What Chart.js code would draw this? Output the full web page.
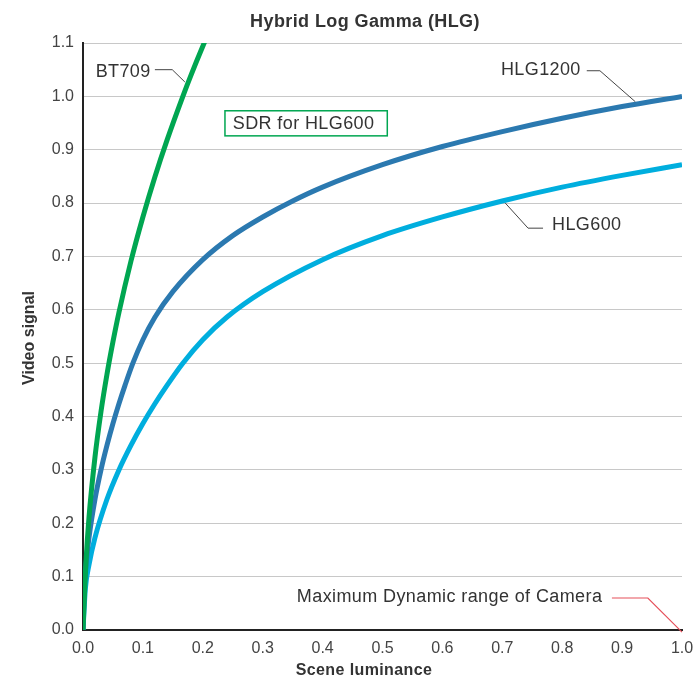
<!DOCTYPE html>
<html>
<head>
<meta charset="utf-8">
<script src="https://cdn.jsdelivr.net/npm/chart.js@4"></script>
<style>
html,body{margin:0;padding:0;background:#fff;}
#wrap{width:696px;height:679px;}
</style>
</head>
<body>
<div id="wrap"><canvas id="c" width="696" height="679"></canvas></div>
<script>
// ---- Data ----
const bt709X = [0, 0.003, 0.005, 0.01, 0.02, 0.03, 0.04, 0.05, 0.06, 0.08, 0.1, 0.12, 0.14, 0.1667, 0.18, 0.2, 0.21];
const bt709Y = [0, 0.081, 0.128, 0.211, 0.324, 0.409, 0.479, 0.540, 0.595, 0.691, 0.774, 0.849, 0.917, 1.000, 1.039, 1.094, 1.120];

const hlg1200X = [0, 0.002, 0.005, 0.01, 0.02, 0.03, 0.04, 0.05, 0.06, 0.07, 0.0833, 0.1, 0.12, 0.15, 0.2, 0.25, 0.3, 0.35, 0.4, 0.5, 0.6, 0.7, 0.8, 0.9, 1.0];
const hlg1200Y = [0, 0.078, 0.122, 0.173, 0.245, 0.300, 0.346, 0.387, 0.424, 0.458, 0.500, 0.544, 0.586, 0.634, 0.694, 0.739, 0.774, 0.804, 0.830, 0.872, 0.906, 0.934, 0.959, 0.981, 1.000];

const hlg600X = [0, 0.004, 0.01, 0.02, 0.04, 0.06, 0.08, 0.1, 0.12, 0.14, 0.1667, 0.2, 0.24, 0.3, 0.4, 0.5, 0.6, 0.7, 0.8, 0.9, 1.0];
const hlg600Y = [0, 0.078, 0.122, 0.173, 0.245, 0.300, 0.346, 0.387, 0.424, 0.458, 0.500, 0.544, 0.586, 0.634, 0.694, 0.739, 0.774, 0.804, 0.830, 0.852, 0.872];

const xTicks = [0, 0.1, 0.2, 0.3, 0.4, 0.5, 0.6, 0.7, 0.8, 0.9, 1.0];
const yTicks = [0, 0.1, 0.2, 0.3, 0.4, 0.5, 0.6, 0.7, 0.8, 0.9, 1.0, 1.1];

const titleText = 'Hybrid Log Gamma (HLG)';
const xTitle = 'Scene luminance';
const yTitle = 'Video signal';

const GREEN = '#00a651';
const DARKBLUE = '#2b79b0';
const LIGHTBLUE = '#00aede';
const FONT = '"Liberation Sans", Arial, Helvetica, sans-serif';

function pts(xs, ys){ return xs.map((x,i)=>({x:x, y:ys[i]})); }

const annot = {
  id: 'annot',
  afterDraw(chart){
    const ctx = chart.ctx;
    const sx = chart.scales.x, sy = chart.scales.y;
    const px = v => sx.getPixelForValue(v), py = v => sy.getPixelForValue(v);
    ctx.save();
    function leader(pp, color, w){
      ctx.beginPath();
      ctx.strokeStyle = color; ctx.lineWidth = w;
      pp.forEach((p,i)=>{ const X=px(p[0]), Y=py(p[1]); if(i===0) ctx.moveTo(X,Y); else ctx.lineTo(X,Y); });
      ctx.stroke();
    }
    ctx.font = '18px ' + FONT;
    try { ctx.letterSpacing = '0.4px'; } catch(e) {}
    ctx.fillStyle = '#333';
    ctx.textBaseline = 'middle';
    ctx.textAlign = 'right';
    ctx.fillText('BT709', px(0.113), py(1.046));
    leader([[0.120,1.050],[0.149,1.050],[0.170,1.027]], '#444', 1);
    ctx.fillText('HLG1200', px(0.831), py(1.049));
    leader([[0.841,1.048],[0.863,1.048],[0.922,0.990]], '#444', 1);
    ctx.fillText('Maximum Dynamic range of Camera', px(0.867), py(0.062));
    leader([[0.883,0.060],[0.943,0.060],[1.0,-0.004]], '#e5505a', 1.2);
    ctx.textAlign = 'left';
    ctx.fillText('HLG600', px(0.783), py(0.759));
    leader([[0.768,0.753],[0.743,0.753],[0.705,0.800]], '#444', 1);
    const bx0 = px(0.237), bx1 = px(0.508), by0 = py(0.973), by1 = py(0.926);
    ctx.strokeStyle = GREEN; ctx.lineWidth = 1.5;
    ctx.strokeRect(bx0, by0, bx1-bx0, by1-by0);
    ctx.fillStyle = '#333';
    ctx.fillText('SDR for HLG600', px(0.250), py(0.949));
    ctx.textAlign = 'center';
    ctx.font = 'bold 18px ' + FONT;
    ctx.fillText(titleText, 365, 22);
    ctx.font = 'bold 16px ' + FONT;
    ctx.fillText(xTitle, 364, 671);
    try { ctx.letterSpacing = '0px'; } catch(e) {}
    ctx.translate(30, 338);
    ctx.rotate(-Math.PI/2);
    ctx.fillText(yTitle, 0, 0);
    ctx.restore();
  }
};

new Chart(document.getElementById('c'), {
  type: 'scatter',
  data: {
    datasets: [
      { label: 'BT709', data: pts(bt709X, bt709Y), borderColor: GREEN },
      { label: 'HLG1200', data: pts(hlg1200X, hlg1200Y), borderColor: DARKBLUE },
      { label: 'HLG600', data: pts(hlg600X, hlg600Y), borderColor: LIGHTBLUE }
    ].map(d => Object.assign(d, { showLine: true, pointRadius: 0, borderWidth: 5, cubicInterpolationMode: 'monotone', fill: false, borderCapStyle: 'butt' }))
  },
  options: {
    responsive: false,
    animation: false,
    devicePixelRatio: 1,
    layout: { padding: { top: 43, right: 14, left: 0, bottom: 0 } },
    plugins: { legend: { display: false }, title: { display: false }, tooltip: { enabled: false } },
    scales: {
      x: {
        type: 'linear', min: 0, max: 1,
        afterFit: s => { s.height = 49; s.paddingLeft = 0; s.paddingRight = 0; },
        afterBuildTicks: s => { s.ticks = xTicks.map(v => ({ value: v })); },
        ticks: { padding: 9, color: '#444', font: { family: FONT, size: 16 }, callback: v => Number(v).toFixed(1), maxRotation: 0, autoSkip: false },
        grid: { display: false, drawTicks: false },
        border: { display: true, color: '#222', width: 2 }
      },
      y: {
        type: 'linear', min: 0, max: 1.1,
        afterFit: s => { s.width = 83; s.paddingTop = 0; s.paddingBottom = 0; },
        afterBuildTicks: s => { s.ticks = yTicks.map(v => ({ value: v })); },
        ticks: { padding: 9, color: '#444', font: { family: FONT, size: 16 }, callback: v => Number(v).toFixed(1), autoSkip: false },
        grid: { color: '#c8c8c8', lineWidth: 1, drawTicks: false },
        border: { display: true, color: '#222', width: 2 }
      }
    }
  },
  plugins: [annot]
});
</script>
</body>
</html>
